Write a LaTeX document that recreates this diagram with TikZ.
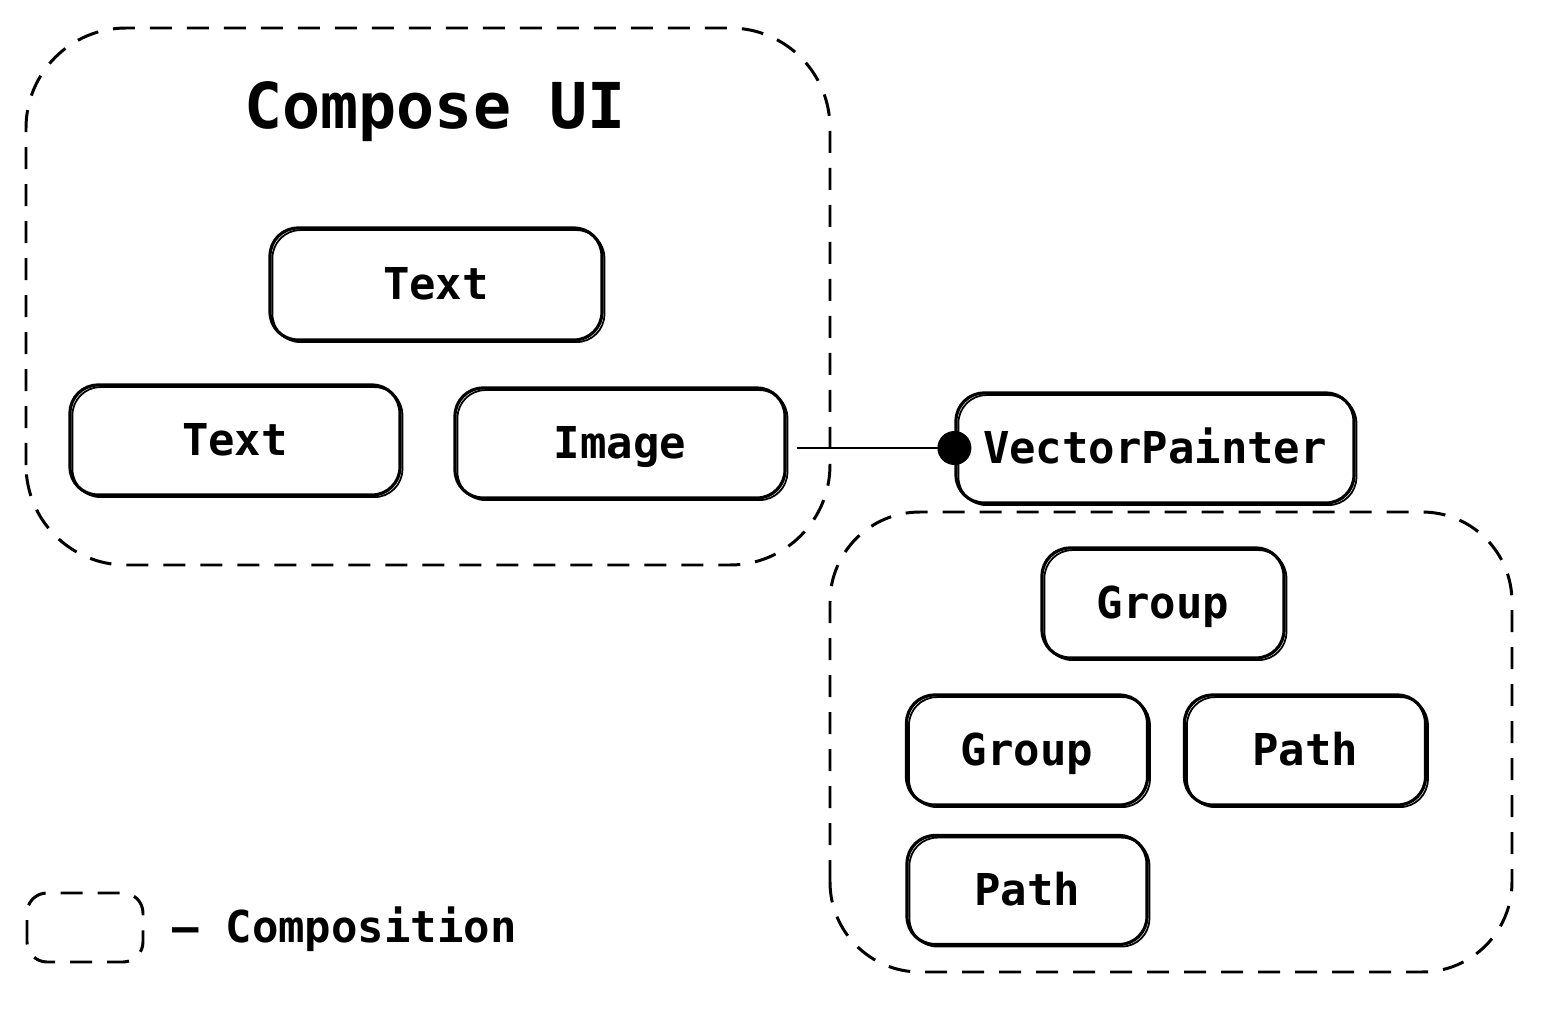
\documentclass[tikz,border=0pt]{standalone}
\usepackage{fontspec}
\setmonofont{DejaVu Sans Mono}
\usetikzlibrary{arrows.meta}

\tikzset{
  leafbox/.style={draw, line width=0.9pt, rounded corners=0.28cm,
    inner sep=0pt, text height=9.1pt, text depth=0pt,
    font=\ttfamily\bfseries\fontsize{12.5}{15}\selectfont,
    preaction={draw, line width=0.5pt,
      transform canvas={xshift=0.7pt, yshift=-0.6pt}}},
  compbox/.style={line width=0.85pt, dash pattern=on 0.22cm off 0.15cm}
}

\begin{document}
\begin{tikzpicture}
            \useasboundingbox (0,0) rectangle (15.46,10.18);

            % Drawing composition Compose UI
            \draw [compbox, rounded corners=1.0cm] (0.26,4.53) rectangle (8.30,9.90);%
            \node [font=\ttfamily\bfseries\fontsize{18}{21}\selectfont] (uititle) at (4.35,9.06) {Compose UI};%

            % Drawing boxes Text Text Image
            \node [leafbox, minimum width=3.32cm, minimum height=1.12cm] (text1) at (4.36,7.34) {Text};%
            \node [leafbox, minimum width=3.30cm, minimum height=1.10cm] (text2) at (2.35,5.78) {Text};%
            \node [leafbox, minimum width=3.30cm, minimum height=1.10cm] (image) at (6.20,5.75) {Image};%

            % Drawing box VectorPainter
            \node [leafbox, minimum width=3.98cm, minimum height=1.10cm] (painter) at (11.55,5.70) {VectorPainter};%

            % Drawing composition of the painter
            \draw [compbox, rounded corners=0.9cm] (8.30,0.46) rectangle (15.12,5.06);%
            \node [leafbox, minimum width=2.42cm, minimum height=1.10cm] (group1) at (11.63,4.15) {Group};%
            \node [leafbox, minimum width=2.41cm, minimum height=1.10cm] (group2) at (10.27,2.68) {Group};%
            \node [leafbox, minimum width=2.41cm, minimum height=1.10cm] (path1) at (13.05,2.68) {Path};%
            \node [leafbox, minimum width=2.40cm, minimum height=1.09cm] (path2) at (10.27,1.28) {Path};%

            % Drawing line Image VectorPainter
            \draw [line width=0.8pt, shorten <=0.1cm] (image.east |- painter.west) -- (painter.west);%
            \fill (painter.west) circle (0.17);%

            % Drawing legend
            \draw [compbox, rounded corners=0.2cm] (0.27,0.56) rectangle (1.43,1.25);%
            \node [anchor=west, inner sep=0pt, font=\ttfamily\bfseries\fontsize{12.5}{15}\selectfont] (legend) at (1.72,0.89) {– Composition};%
\end{tikzpicture}
\end{document}
